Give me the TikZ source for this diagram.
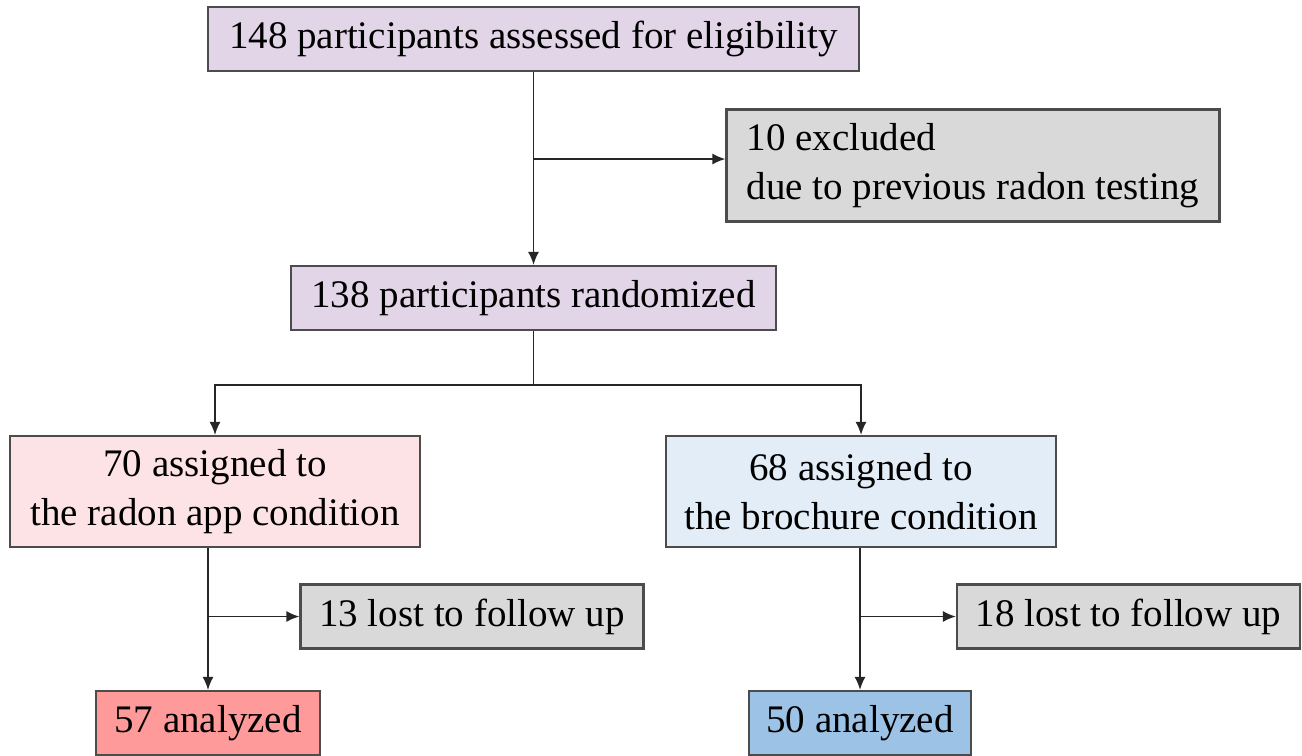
\documentclass[tikz,border=0pt]{standalone}
\usepackage{fontspec}
\setmainfont{Liberation Serif}
\usetikzlibrary{arrows.meta}

\definecolor{lila}{HTML}{E1D5E7}
\definecolor{greybox}{HTML}{D9D9D9}
\definecolor{pinkbox}{HTML}{FDE3E5}
\definecolor{bluebox}{HTML}{E3EDF7}
\definecolor{redbox}{HTML}{FF9A9A}
\definecolor{darkblue}{HTML}{9CC3E5}

\begin{document}
\begin{tikzpicture}[
    box/.style={draw=black!70, line width=0.6pt, inner sep=0pt, font=\fontsize{11.1}{13.8}\selectfont},
    arr/.style={line width=0.5pt, draw=black!85, -{Latex[length=1.3mm,width=1.1mm]}}
]
    \useasboundingbox (0, 0) rectangle (13.02, -7.55);

    \node[box, fill=lila, minimum width=6.51cm, minimum height=0.64cm] (elig) at (5.335, -0.39) {148 participants assessed for eligibility};
    \node[box, fill=greybox, minimum width=4.93cm, minimum height=1.12cm, align=left] (excl) at (9.73, -1.655) {10 excluded\\due to previous radon testing};
    \node[box, fill=lila, minimum width=4.85cm, minimum height=0.64cm] (rand) at (5.335, -2.98) {138 participants randomized};

    \node[box, fill=pinkbox, minimum width=4.1cm, minimum height=1.11cm, align=center] (app) at (2.15, -4.915) {70 assigned to\\the radon app condition};
    \node[box, fill=bluebox, minimum width=3.9cm, minimum height=1.11cm, align=center] (broch) at (8.61, -4.915) {68 assigned to\\the brochure condition};

    \node[box, fill=greybox, minimum width=3.43cm, minimum height=0.64cm] (lostA) at (4.72, -6.165) {13 lost to follow up};
    \node[box, fill=greybox, minimum width=3.43cm, minimum height=0.64cm] (lostB) at (11.285, -6.165) {18 lost to follow up};

    \node[box, fill=redbox, minimum width=2.24cm, minimum height=0.64cm] (anA) at (2.08, -7.23) {57 analyzed};
    \node[box, fill=darkblue, minimum width=2.22cm, minimum height=0.64cm] (anB) at (8.6, -7.23) {50 analyzed};

    % eligibility and exclusion
    \coordinate (j1) at (5.335, -1.59);
    \draw[arr] (elig.south) -- (rand.north);
    \draw[arr] (j1) -- (j1 -| excl.west);

    % randomization
    \coordinate (j2) at (5.335, -3.85);
    \draw[line width=0.5pt, draw=black!85] (rand.south) -- (j2);
    \draw[arr] (j2) -| (app.north);
    \draw[arr] (j2) -| (broch.north);

    % follow up
    \coordinate (j3) at (2.08, -6.165);
    \coordinate (j4) at (8.6, -6.165);
    \draw[arr] (anA.north |- app.south) -- (anA.north);
    \draw[arr] (j3) -- (lostA.west);
    \draw[arr] (anB.north |- broch.south) -- (anB.north);
    \draw[arr] (j4) -- (lostB.west);
\end{tikzpicture}
\end{document}
